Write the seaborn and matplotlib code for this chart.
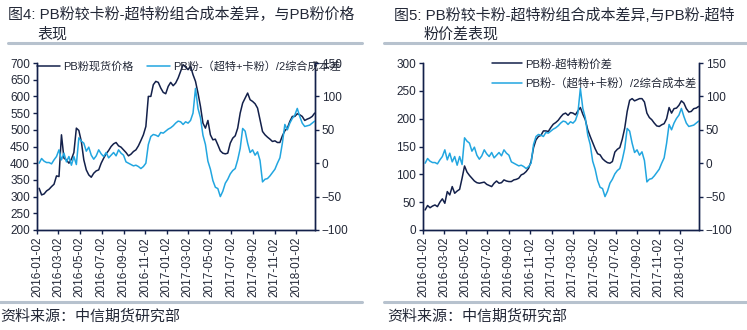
import numpy as np
import pandas as pd
import matplotlib
matplotlib.use("Agg")
import matplotlib.pyplot as plt
import seaborn as sns

# ---------------- data (weekly) ----------------
dates = pd.date_range("2016-01-08", periods=112, freq="7D")

pb_spot = [325, 305, 308, 317, 322, 330, 337, 362, 360, 485,
           415, 410, 400, 412, 432, 505, 498, 465, 410, 380,
           365, 358, 370, 377, 380, 400, 415, 428, 438, 450,
           458, 462, 452, 448, 440, 432, 422, 427, 435, 440,
           452, 468, 485, 510, 600, 600, 635, 645, 642, 625,
           612, 608, 630, 642, 632, 640, 655, 675, 695, 688,
           680, 690, 665, 645, 610, 570, 520, 505, 528, 485,
           470, 472, 455, 437, 430, 428, 430, 460, 475, 482,
           505, 550, 580, 595, 610, 590, 585, 578, 565, 530,
           495, 485, 478, 472, 465, 467, 462, 462, 482, 497,
           505, 525, 540, 540, 548, 545, 540, 528, 532, 535,
           540, 550]

cost_diff = [0, 7, 3, 1, 1, -1, 5, 10, 20, 5,
             15, 2, 10, -3, 10, -2, 38, 33, 30, 18,
             24, 12, 6, 11, 20, 14, 10, 16, 8, 12,
             16, 11, 20, 15, 12, 2, 0, -2, -4, -3,
             -5, -8, -5, 0, 28, 40, 43, 42, 40, 46,
             45, 48, 51, 53, 56, 60, 63, 62, 58, 62,
             60, 64, 75, 112, 82, 68, 42, 28, 3, -9,
             -26, -36, -38, -50, -42, -30, -24, -16, -11, -8,
             5, 22, 52, 48, 30, 16, 20, 12, 17, 4,
             -28, -24, -23, -19, -14, -9, 0, 8, 30, 58,
             50, 60, 67, 72, 82, 70, 60, 55, 56, 57,
             60, 63]

pb_super_spread = [36, 44, 40, 43, 45, 42, 50, 56, 48, 69,
                   63, 78, 66, 70, 73, 93, 115, 104, 98, 93,
                   88, 85, 84, 85, 86, 82, 80, 78, 84, 88,
                   84, 85, 90, 88, 87, 87, 90, 91, 93, 99,
                   101, 105, 111, 123, 148, 162, 168, 170, 178, 178,
                   177, 184, 190, 193, 197, 203, 208, 210, 206, 211,
                   210, 207, 214, 220, 208, 198, 180, 168, 157, 146,
                   137, 135, 128, 124, 121, 120, 123, 140, 145, 148,
                   163, 183, 213, 233, 236, 232, 234, 236, 236, 230,
                   210, 202, 198, 192, 187, 186, 189, 191, 200, 220,
                   210, 218, 219, 224, 232, 228, 218, 212, 213, 218,
                   219, 222]

tick_labels = ["2016-01-02", "2016-03-02", "2016-05-02", "2016-07-02",
               "2016-09-02", "2016-11-02", "2017-01-02", "2017-03-02",
               "2017-05-02", "2017-07-02", "2017-09-02", "2017-11-02",
               "2018-01-02"]

name_spot = "PB粉现货价格"
name_cost = "PB粉-（超特+卡粉）/2综合成本差"
name_spread = "PB粉-超特粉价差"

# ---------------- style ----------------
sns.set_style("ticks")
plt.rcParams['font.family'] = ['Liberation Sans', 'Noto Sans CJK SC', 'DejaVu Sans']

DARK = "#13204a"
LIGHT = "#22a6e0"
TXT = "#232837"
SEP = "#b7c2ce"

W, H = 747, 330
fig = plt.figure(figsize=(W / 100, H / 100), dpi=100)


def fx(px):
    return px / W


def fy(py):
    return 1 - py / H


def panel(x0, x1, left_vals, left_lim, left_step):
    ax = fig.add_axes([fx(x0), fy(230), fx(x1 - x0), fy(63) - fy(230)])
    ax2 = ax.twinx()
    sns.lineplot(x=dates, y=left_vals, ax=ax, color=DARK, linewidth=1.1)
    sns.lineplot(x=dates, y=cost_diff, ax=ax2, color=LIGHT, linewidth=1.1)
    ax.set_ylim(*left_lim)
    ax.set_yticks(np.arange(left_lim[0], left_lim[1] + 1, left_step))
    ax2.set_ylim(-100, 150)
    ax2.set_yticks(np.arange(-100, 151, 50))
    ax.set_xlim(pd.Timestamp("2016-01-02"), pd.Timestamp("2018-02-24"))
    ax.set_xticks(pd.to_datetime(tick_labels))
    ax.set_xticklabels(tick_labels, rotation=90)
    for a in (ax, ax2):
        a.set_xlabel("")
        a.set_ylabel("")
        a.spines["top"].set_visible(False)
        for s in ("left", "right", "bottom"):
            a.spines[s].set_color(DARK)
            a.spines[s].set_linewidth(1.0)
        a.tick_params(direction="out", length=3, width=1.0, color=DARK,
                      labelsize=8.5, labelcolor=TXT, pad=2)
    return ax, ax2


# left panel
axL, axL2 = panel(37, 315, pb_spot, (200, 700), 50)
hL = [axL.lines[0], axL2.lines[0]]
fig.legend(hL, [name_spot, name_cost], loc="center left",
           bbox_to_anchor=(fx(37), fy(66)), ncol=2, frameon=False,
           fontsize=8, handlelength=2.1, handletextpad=0.25,
           columnspacing=1.2, borderpad=0, borderaxespad=0, labelcolor=TXT)

# right panel
axR, axR2 = panel(423, 699, pb_super_spread, (0, 300), 50)
hR = [axR.lines[0], axR2.lines[0]]
fig.legend(hR, [name_spread, name_cost], loc="upper left",
           bbox_to_anchor=(fx(492), fy(58)), ncol=1, frameon=False,
           fontsize=8.2, handlelength=2.6, handletextpad=0.3,
           labelspacing=0.75, borderpad=0, borderaxespad=0, labelcolor=TXT)

# titles
TFS = 10.8
fig.text(fx(8), fy(15), "图4: PB粉较卡粉-超特粉组合成本差异，与PB粉价格",
         fontsize=TFS, color=TXT, va="center", ha="left")
fig.text(fx(37), fy(34), "表现", fontsize=TFS, color=TXT, va="center", ha="left")
fig.text(fx(394), fy(15), "图5: PB粉较卡粉-超特粉组合成本差异,与PB粉-超特",
         fontsize=TFS, color=TXT, va="center", ha="left")
fig.text(fx(424), fy(34), "粉价差表现", fontsize=TFS, color=TXT, va="center", ha="left")

# separators
for (a, b) in ((8, 362), (384, 747)):
    fig.add_artist(plt.Line2D([fx(a), fx(b)], [fy(43), fy(43)], color=SEP, linewidth=2.2))
for (a, b) in ((0, 362), (384, 747)):
    fig.add_artist(plt.Line2D([fx(a), fx(b)], [fy(302), fy(302)], color=SEP, linewidth=2.2))

# sources
fig.text(fx(0), fy(316), "资料来源：中信期货研究部", fontsize=10.8, color=TXT, va="center", ha="left")
fig.text(fx(387), fy(316), "资料来源：中信期货研究部", fontsize=10.8, color=TXT, va="center", ha="left")

fig.savefig("out.png", dpi=100)
